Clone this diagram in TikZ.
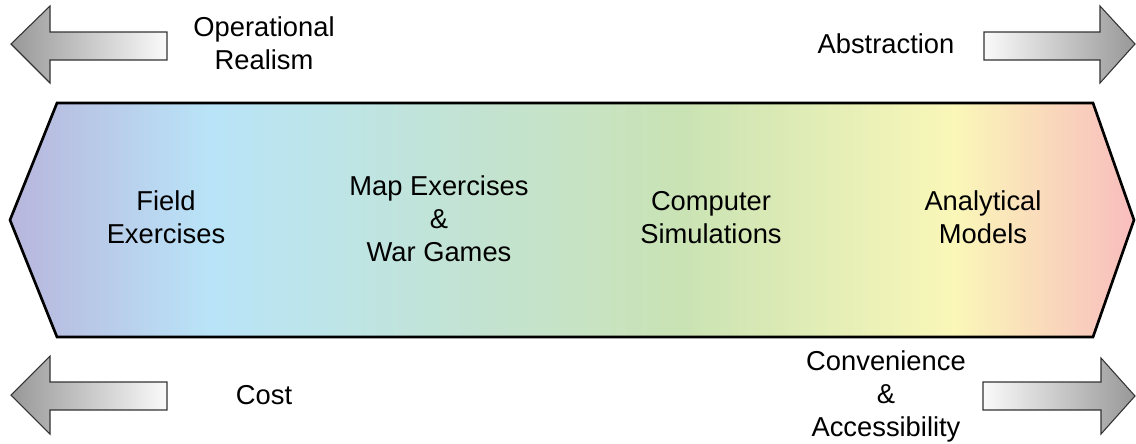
\documentclass[tikz,border=0pt]{standalone}
\usepackage{fontspec}
\setmainfont{Liberation Sans}

% colours of the spectrum band
\definecolor{lavender}{HTML}{B8B6DC}
\definecolor{skyblue}{HTML}{B9E4F8}
\definecolor{leafgreen}{HTML}{CAE3B4}
\definecolor{butter}{HTML}{FAF7B8}
\definecolor{rosepink}{HTML}{F9BDBE}
\definecolor{arrowdark}{HTML}{989898}
\definecolor{arrowlight}{HTML}{FAFAFA}

% the path bounding box spans 25bp..75bp of the shading
\pgfdeclarehorizontalshading{spectrum}{100bp}{%
  color(0bp)=(lavender); color(25bp)=(lavender); color(34bp)=(skyblue);
  color(55bp)=(leafgreen); color(67bp)=(butter); color(75bp)=(rosepink);
  color(100bp)=(rosepink)}

\begin{document}
\begin{tikzpicture}[x=0.75pt,y=-0.75pt,
  lbl/.style={font=\fontsize{20.5}{24.75}\selectfont, align=center,
              inner sep=0pt, text=black},
  leftbar/.style={draw=black!80, line width=0.8pt, line join=miter,
              left color=arrowdark, right color=arrowlight},
  rightbar/.style={draw=black!80, line width=0.8pt, line join=miter,
              left color=arrowlight, right color=arrowdark},
  band/.style={draw=black, line width=2pt, line join=miter,
              shade, shading=spectrum}]

\useasboundingbox (0,0) rectangle (1136,443);

% spectrum band
\path[band] (10,220) -- (57,103) -- (1093,103) -- (1134,220)
  -- (1093,337) -- (57,337) -- cycle;

% direction arrows
\path[leftbar] (11,44) -- (50,6) -- (50,32) -- (167,32) -- (167,60)
  -- (50,60) -- (50,83) -- cycle;
\path[rightbar] (984,32) -- (1100,32) -- (1100,6) -- (1135,44)
  -- (1100,83) -- (1100,60) -- (984,60) -- cycle;
\path[leftbar] (11,395) -- (50,356) -- (50,382) -- (167,382) -- (167,410)
  -- (50,410) -- (50,434) -- cycle;
\path[rightbar] (983,382) -- (1101,382) -- (1101,358) -- (1135,396)
  -- (1101,434) -- (1101,410) -- (983,410) -- cycle;

% axis labels
\node[lbl] (realism) at (264,43.5) {Operational\\Realism};
\node[lbl, anchor=base] (abstraction) at (886,53) {Abstraction};
\node[lbl, anchor=base] (cost) at (264,404) {Cost};
\node[lbl] (access) at (886,396) {Convenience\\\&\\Accessibility};

% categories along the band
\node[lbl] (field) at (166,217.5) {Field\\Exercises};
\node[lbl] (map) at (439,219) {Map Exercises\\\&\\War Games};
\node[lbl] (sim) at (711,218) {Computer\\Simulations};
\node[lbl] (models) at (983,217) {Analytical\\Models};
\end{tikzpicture}
\end{document}
